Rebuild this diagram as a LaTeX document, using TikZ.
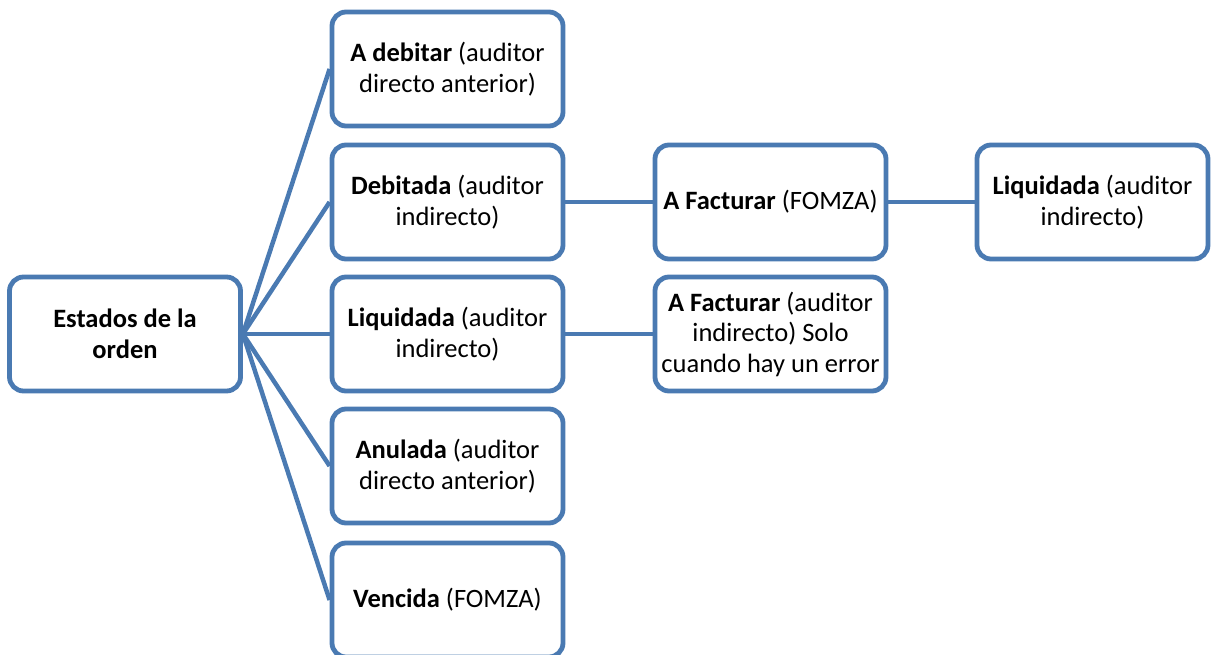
\documentclass[tikz,border=0pt]{standalone}
\usepackage{fontspec}
\setmainfont{Carlito}
\definecolor{boxblue}{RGB}{74,122,178}
\tikzset{
  state/.style={draw=boxblue, line width=4.8pt, fill=white, rounded corners=14pt,
    minimum width=231pt, minimum height=114pt, inner sep=0pt, align=center,
    font=\fontsize{26.5}{30.5}\selectfont},
  link/.style={draw=boxblue, line width=4.5pt}
}
\begin{document}
\begin{tikzpicture}[x=1pt, y=-1pt]
\useasboundingbox (0,0) rectangle (1211,655);
\clip (0,0) rectangle (1211,655);
\node[state] (root) at (125,334) {\textbf{Estados de la}\\\textbf{orden}};
\node[state] (a1) at (447.5,69) {\textbf{A debitar} (auditor\\directo anterior)};
\node[state] (a2) at (447.5,202) {\textbf{Debitada} (auditor\\indirecto)};
\node[state] (a3) at (447.5,334) {\textbf{Liquidada} (auditor\\indirecto)};
\node[state] (a4) at (447.5,466) {\textbf{Anulada} (auditor\\directo anterior)};
\node[state] (a5) at (447.5,600) {\textbf{Vencida} (FOMZA)};
\node[state] (b1) at (770.5,202) {\textbf{A Facturar} (FOMZA)};
\node[state] (b2) at (770.5,334) {\textbf{A Facturar} (auditor\\indirecto) Solo\\cuando hay un error};
\node[state] (c1) at (1092.5,202) {\textbf{Liquidada} (auditor\\indirecto)};
% connectors from the root to each state, and onward along the chains
\foreach \t in {a1,a2,a3,a4,a5}
  \draw[link] (root.east) -- (\t.west);
\draw[link] (a2.east) -- (b1.west);
\draw[link] (b1.east) -- (c1.west);
\draw[link] (a3.east) -- (b2.west);
\end{tikzpicture}
\end{document}
